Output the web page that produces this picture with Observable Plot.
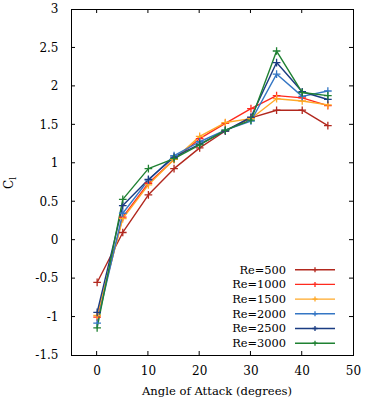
<!DOCTYPE html>
<html><head><meta charset="utf-8">
<script src="https://cdn.jsdelivr.net/npm/d3@7"></script>
<script src="https://cdn.jsdelivr.net/npm/@observablehq/plot@0.6"></script>
<style>body{margin:0;background:#fff}</style>
</head><body><div id="chart"></div>
<script>
const angles = [0, 5, 10, 15, 20, 25, 30, 35, 40, 45];
const seriesNames = ["Re=500", "Re=1000", "Re=1500", "Re=2000", "Re=2500", "Re=3000"];
const re500  = [-0.55, 0.10, 0.59, 0.93, 1.20, 1.42, 1.59, 1.69, 1.69, 1.49];
const re1000 = [-1.00, 0.30, 0.74, 1.05, 1.32, 1.52, 1.71, 1.88, 1.85, 1.75];
const re1500 = [-0.98, 0.28, 0.72, 1.05, 1.35, 1.53, 1.58, 1.84, 1.81, 1.76];
const re2000 = [-1.08, 0.35, 0.78, 1.10, 1.28, 1.43, 1.55, 2.16, 1.87, 1.94];
const re2500 = [-0.94, 0.45, 0.79, 1.08, 1.25, 1.42, 1.60, 2.31, 1.93, 1.83];
const re3000 = [-1.14, 0.53, 0.93, 1.06, 1.24, 1.43, 1.56, 2.46, 1.92, 1.88];
const colors = ["#b2281e", "#ff2a1e", "#ffa928", "#3476c4", "#1b3c82", "#1f8132"];
const xTicks = [0, 10, 20, 30, 40, 50];
const yTicks = [-1.5, -1, -0.5, 0, 0.5, 1, 1.5, 2, 2.5, 3];

const allSeries = [re500, re1000, re1500, re2000, re2500, re3000];
const data = allSeries.flatMap((vals, i) => vals.map((v, j) => ({series: seriesNames[i], x: angles[j], y: v})));

const FONT = "font-family: 'DejaVu Serif'";
const W = 365, H = 403;
const plot = Plot.plot({
  width: W, height: H,
  marginLeft: 71, marginRight: 12, marginTop: 9, marginBottom: 48,
  style: {fontFamily: "DejaVu Serif", fontSize: "12px", background: "#fff", overflow: "visible"},
  x: {domain: [-5, 50]},
  y: {domain: [-1.5, 3]},
  color: {domain: seriesNames, range: colors},
  marks: [
    Plot.axisX(xTicks, {tickSize: 0, tickPadding: 11, label: null, fontSize: 12, tickFormat: d => String(d)}),
    Plot.axisY(yTicks, {tickSize: 0, tickPadding: 13, label: null, fontSize: 12, tickFormat: d => String(d)}),
    Plot.line(data, {x: "x", y: "y", z: "series", stroke: "series", strokeWidth: 1.4}),
    Plot.dot(data, {x: "x", y: "y", stroke: "series", symbol: "plus", r: 2.6, strokeWidth: 1.3}),
    Plot.frame({stroke: "#000", strokeWidth: 1})
  ]
});
document.getElementById("chart").appendChild(plot);

const svg = d3.select(plot);
svg.selectAll("text").attr("style", FONT);
const sx = plot.scale("x"), sy = plot.scale("y");
const L = 71, R = W - 12, T = 9, B = H - 48;
const tk = 4;
const g = svg.append("g").attr("stroke", "#000").attr("stroke-width", 1);
xTicks.forEach(v => {
  const px = sx.apply(v);
  if (px > L + 1 && px < R - 1) {
    g.append("line").attr("x1", px).attr("x2", px).attr("y1", B).attr("y2", B - tk);
    g.append("line").attr("x1", px).attr("x2", px).attr("y1", T).attr("y2", T + tk);
  }
});
yTicks.forEach(v => {
  const py = sy.apply(v);
  if (py > T + 1 && py < B - 1) {
    g.append("line").attr("y1", py).attr("y2", py).attr("x1", L).attr("x2", L + tk);
    g.append("line").attr("y1", py).attr("y2", py).attr("x1", R).attr("x2", R - tk);
  }
});

// axis labels
svg.append("text").attr("x", (L + R) / 2 + 5).attr("y", 395).attr("text-anchor", "middle")
  .attr("style", FONT).attr("font-size", 11.6).attr("fill", "#000").text("Angle of Attack (degrees)");
const yl = svg.append("text").attr("transform", "translate(13,183) rotate(-90)")
  .attr("text-anchor", "middle").attr("style", FONT).attr("font-size", 12).attr("fill", "#000");
yl.append("tspan").text("C");
yl.append("tspan").attr("font-size", 9).attr("dy", 3).text("l");

// legend
const lg = svg.append("g");
seriesNames.forEach((name, i) => {
  const yy = 269.7 + i * 14.7;
  lg.append("text").attr("x", 286).attr("y", yy).attr("dy", "0.35em").attr("text-anchor", "end")
    .attr("style", FONT).attr("font-size", 11.4).attr("fill", "#000").text(name);
  lg.append("line").attr("x1", 295).attr("x2", 335).attr("y1", yy).attr("y2", yy)
    .attr("stroke", colors[i]).attr("stroke-width", 1.4);
  lg.append("path").attr("d", `M${315 - 2.5},${yy}h5M315,${yy - 2.5}v5`)
    .attr("stroke", colors[i]).attr("stroke-width", 1.3);
});
</script></body></html>
